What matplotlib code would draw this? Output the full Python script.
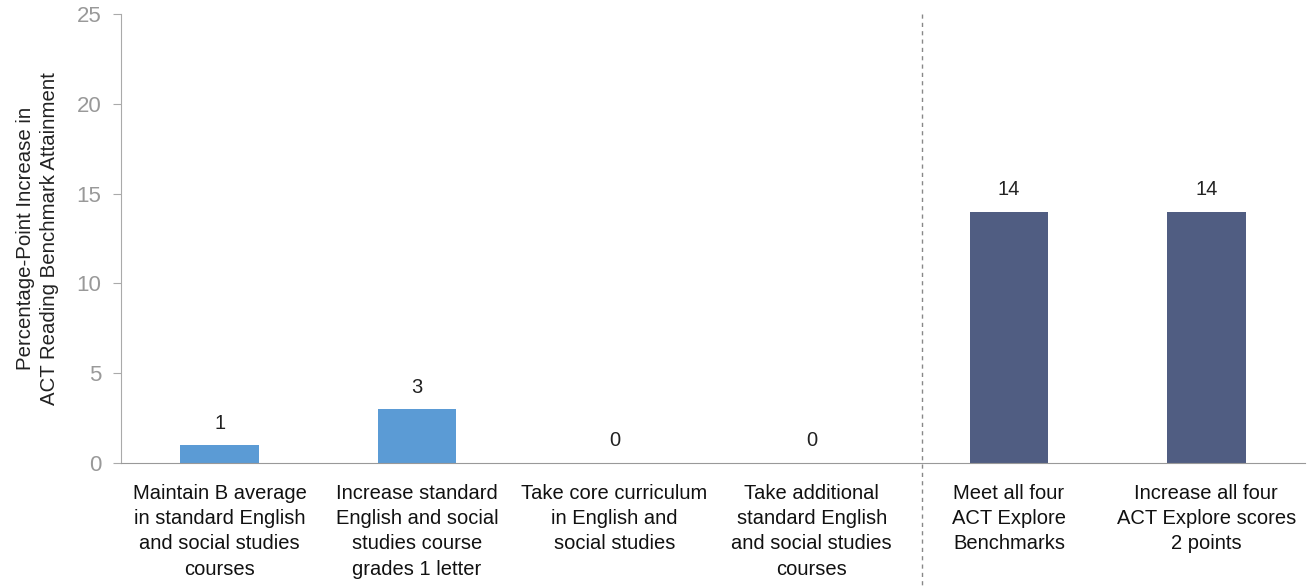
import matplotlib
matplotlib.use("Agg")
import matplotlib.pyplot as plt
import matplotlib.transforms as mtransforms

categories = [
    "Maintain B average\nin standard English\nand social studies\ncourses",
    "Increase standard\nEnglish and social\nstudies course\ngrades 1 letter",
    "Take core curriculum\nin English and\nsocial studies",
    "Take additional\nstandard English\nand social studies\ncourses",
    "Meet all four\nACT Explore\nBenchmarks",
    "Increase all four\nACT Explore scores\n2 points",
]
values = [1, 3, 0, 0, 14, 14]
colors = ["#5B9BD5", "#5B9BD5", "#5B9BD5", "#5B9BD5", "#505D82", "#505D82"]
yticks = [0, 5, 10, 15, 20, 25]

plt.rcParams['font.family'] = ['Liberation Sans', 'DejaVu Sans']

fig = plt.figure(figsize=(13.09, 5.86), dpi=100)
ax = fig.add_axes([121/1309, 1-463/586, (1305-121)/1309, (463-14)/586])

x = list(range(len(categories)))
ax.bar(x, values, width=0.4, color=colors, zorder=2)
for xi, v in zip(x, values):
    ax.annotate(str(v), (xi, v), xytext=(0, 9), textcoords="offset points",
                ha="center", va="bottom", fontsize=14.5, color="#222222")

ax.set_xlim(-0.5, 5.5)
ax.set_ylim(0, 25)
ax.set_yticks(yticks)
ax.set_xticks(x)
ax.set_xticklabels(categories, fontsize=14.5, color="#111111", linespacing=1.42, va="top")
ax.tick_params(axis="x", length=0, pad=15)
ax.tick_params(axis="y", length=6, color="#aaaaaa", labelcolor="#999999", labelsize=16, pad=8)
for s in ["top", "right"]:
    ax.spines[s].set_visible(False)
ax.spines["left"].set_color("#aaaaaa")
ax.spines["bottom"].set_color("#999999")

ax.set_ylabel("Percentage-Point Increase in\nACT Reading Benchmark Attainment",
              fontsize=14.7, color="#222222", labelpad=13, linespacing=1.3)

trans = mtransforms.blended_transform_factory(ax.transData, fig.transFigure)
ax.plot([3.56, 3.56], [1-14/586, 0], transform=trans, color="#888888",
        linestyle=(0, (3, 3)), linewidth=1, clip_on=False)

fig.savefig("out.png", dpi=100)
